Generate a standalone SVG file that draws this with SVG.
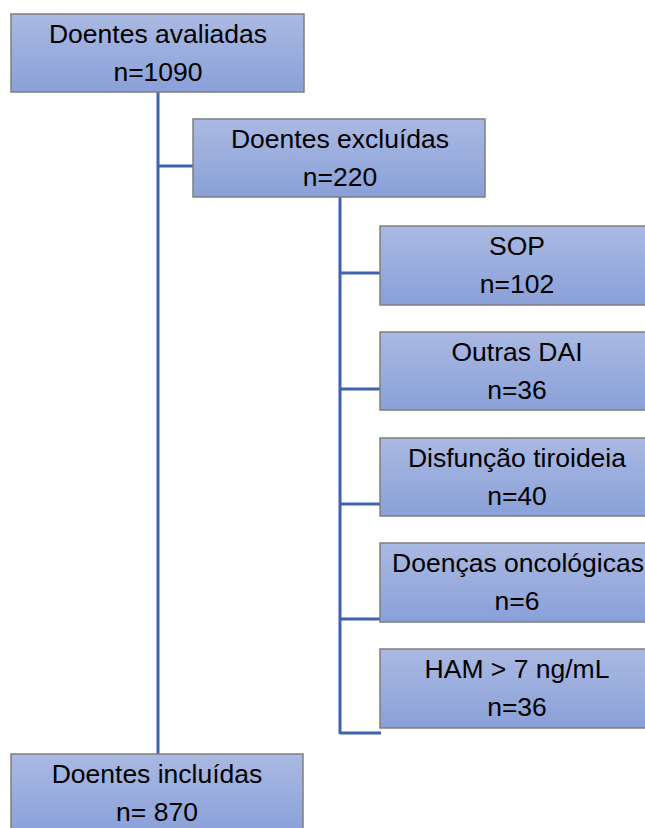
<svg xmlns="http://www.w3.org/2000/svg" width="645" height="828" viewBox="0 0 645 828">
<defs>
<linearGradient id="g" x1="0" y1="0" x2="0" y2="1">
<stop offset="0" stop-color="#aab9e2"/>
<stop offset="1" stop-color="#89a0d8"/>
</linearGradient>
</defs>
<style>
.box{fill:url(#g);stroke:#7f7f7f;stroke-width:1.5}
.t{font-family:"Liberation Sans",Arial,sans-serif;font-size:26.5px;fill:#000;text-anchor:middle}
.c{fill:none;stroke:#3f62ad;stroke-width:3}
</style>
<rect width="645" height="828" fill="#fff"/>
<g id="connectors">
<path class="c" d="M158,92 V755"/>
<path class="c" d="M158,166 H193"/>
<path class="c" d="M340,197 V734"/>
<path class="c" d="M340,273 H380"/>
<path class="c" d="M340,389 H380"/>
<path class="c" d="M340,504 H380"/>
<path class="c" d="M340,619 H380"/>
<path class="c" d="M340,733 H381"/>
</g>
<g id="avaliadas">
<rect class="box" x="11" y="14" width="293" height="78"/>
<text class="t" x="158" y="43">Doentes avaliadas</text>
<text class="t" x="158" y="81">n=1090</text>
</g>
<g id="excluidas">
<rect class="box" x="193" y="119" width="292" height="78"/>
<text class="t" x="340" y="148">Doentes excluídas</text>
<text class="t" x="340" y="186">n=220</text>
</g>
<g id="sop">
<rect class="box" x="380" y="226" width="275" height="79"/>
<text class="t" x="517" y="255">SOP</text>
<text class="t" x="517" y="293">n=102</text>
</g>
<g id="outras">
<rect class="box" x="380" y="332" width="275" height="78"/>
<text class="t" x="517" y="361">Outras DAI</text>
<text class="t" x="517" y="399">n=36</text>
</g>
<g id="tiroideia">
<rect class="box" x="380" y="438" width="275" height="78"/>
<text class="t" x="517" y="467">Disfunção tiroideia</text>
<text class="t" x="517" y="505">n=40</text>
</g>
<g id="oncologicas">
<rect class="box" x="380" y="543" width="275" height="79"/>
<text class="t" x="518" y="572">Doenças oncológicas</text>
<text class="t" x="517" y="610">n=6</text>
</g>
<g id="ham">
<rect class="box" x="380" y="649" width="275" height="79"/>
<text class="t" x="517" y="678">HAM &gt; 7 ng/mL</text>
<text class="t" x="517" y="716">n=36</text>
</g>
<g id="incluidas">
<rect class="box" x="11" y="754" width="292" height="80"/>
<text class="t" x="157" y="783">Doentes incluídas</text>
<text class="t" x="157" y="821">n= 870</text>
</g>
</svg>
